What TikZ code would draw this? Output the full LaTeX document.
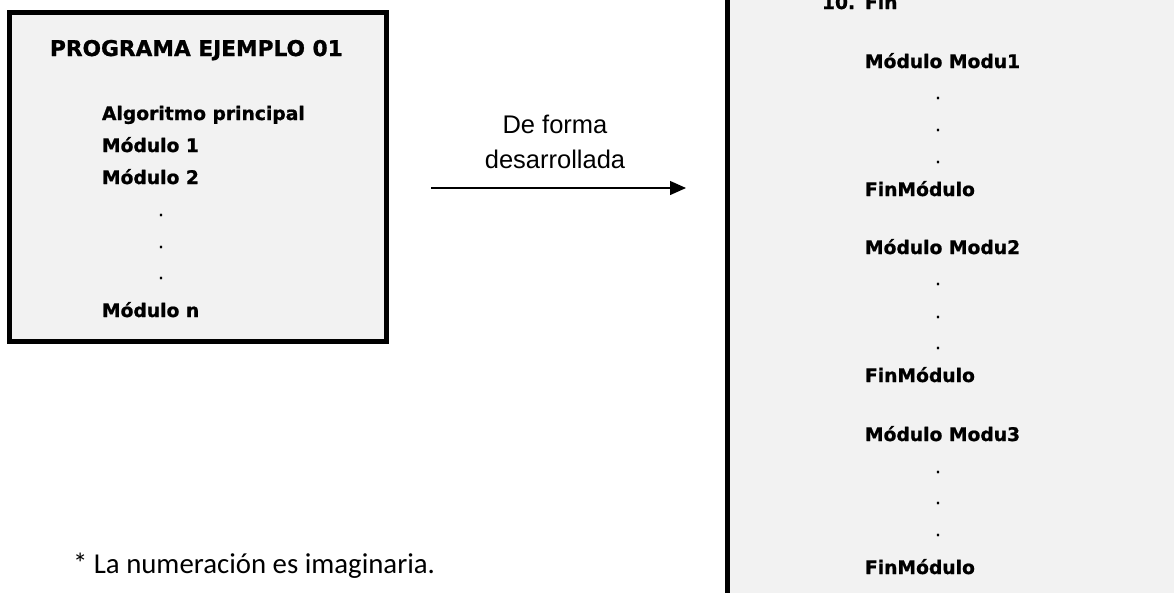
\documentclass[tikz,border=0pt]{standalone}
\usepackage{fontspec}
\usepackage{xcolor}
\usepackage{tikz}
\usetikzlibrary{arrows.meta}
\newfontfamily\cajafont{DejaVu Sans}[BoldFeatures={FakeBold=1}]
\newfontfamily\flechafont{Liberation Sans}
\newfontfamily\notafont{Carlito}
\definecolor{fondo}{HTML}{F2F2F2}

\begin{document}
\begin{tikzpicture}[
  x=1pt, y=-1pt,
  every node/.style={inner sep=0pt, outer sep=0pt},
  caja/.style={draw=black, fill=fondo, line width=5pt},
  linea/.style={anchor=base west, font=\cajafont\bfseries\fontsize{18.7}{20}\selectfont},
  titulo/.style={anchor=base west, font=\cajafont\bfseries\fontsize{21.7}{24}\selectfont},
  punto/.style={anchor=base, font=\cajafont\bfseries\fontsize{11}{12}\selectfont},
  rotulo/.style={anchor=base, font=\flechafont\fontsize{25.5}{30}\selectfont},
  nota/.style={anchor=base west, font=\notafont\fontsize{28.8}{32}\selectfont},
]
\clip (0,0) rectangle (1174,592);
% left box
\draw[caja] (9,12.5) rectangle (386,341);
\node[titulo] (prog) at (50,56) {PROGRAMA EJEMPLO 01};
\node[linea] (alg) at (102,120) {Algoritmo principal};
\node[linea] (m1) at (102,152) {Módulo 1};
\node[linea] (m2) at (102,184) {Módulo 2};
\node[punto] (p1) at (161,216) {.};
\node[punto] (p2) at (161,248) {.};
\node[punto] (p3) at (161,279) {.};
\node[linea] (mn) at (102,317) {Módulo n};
% arrow
\node[rotulo] (de) at (555,133) {De forma};
\node[rotulo] (desa) at (555,168) {desarrollada};
\coordinate (ini) at (431,188);
\coordinate (fin) at (686,188);
\draw[line width=1.3pt, -{Triangle[length=16pt,width=14pt]}] (ini) -- (fin);
% right box
\draw[caja] (727.5,-20) rectangle (1200,620);
\node[linea] (n10) at (822,9) {10.};
\node[linea] (fin10) at (865,9) {Fin};
\node[linea] (mod1) at (865,68) {Módulo Modu1};
\node[punto] (q11) at (938,99) {.};
\node[punto] (q12) at (938,131) {.};
\node[punto] (q13) at (938,163) {.};
\node[linea] (f1) at (865,196) {FinMódulo};
\node[linea] (mod2) at (865,254) {Módulo Modu2};
\node[punto] (q21) at (938,285) {.};
\node[punto] (q22) at (938,318) {.};
\node[punto] (q23) at (938,349) {.};
\node[linea] (f2) at (865,382) {FinMódulo};
\node[linea] (mod3) at (865,441) {Módulo Modu3};
\node[punto] (q31) at (938,473) {.};
\node[punto] (q32) at (938,504) {.};
\node[punto] (q33) at (938,536) {.};
\node[linea] (f3) at (865,574) {FinMódulo};
% footnote
\node[nota] (num) at (73,573) {* La numeración es imaginaria.};
\end{tikzpicture}
\end{document}
